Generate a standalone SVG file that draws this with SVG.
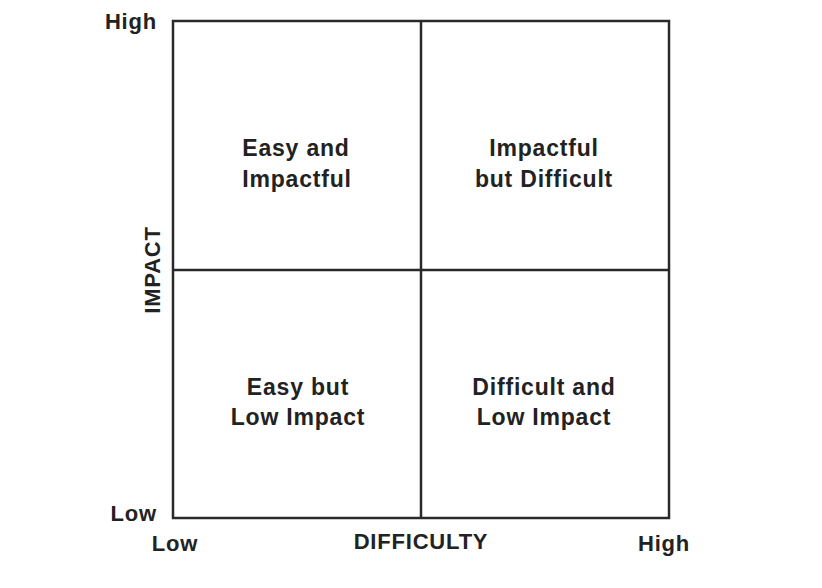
<svg xmlns="http://www.w3.org/2000/svg" width="822" height="588" viewBox="0 0 822 588">
<style>
text{font-family:"Liberation Sans",Arial,sans-serif;font-weight:bold;fill:#222;}
.q{font-size:23px;text-anchor:middle;letter-spacing:0.8px;}
.a{font-size:22px;letter-spacing:0.8px;}
.ln{stroke:#2a2a2a;stroke-width:2.5;fill:none;}
</style>
<rect width="822" height="588" fill="#fff"/>
<g id="connectors">
<rect class="ln" x="173" y="21" width="496" height="497"/>
<line class="ln" x1="421" y1="21" x2="421" y2="518"/>
<line class="ln" x1="173" y1="270" x2="669" y2="270"/>
</g>
<g id="q1"><text class="q" x="296" y="156">Easy and</text><text class="q" x="297" y="187">Impactful</text></g>
<g id="q2"><text class="q" x="544" y="156">Impactful</text><text class="q" x="544" y="187">but Difficult</text></g>
<g id="q3"><text class="q" x="298" y="395">Easy but</text><text class="q" x="298" y="425">Low Impact</text></g>
<g id="q4"><text class="q" x="544" y="395">Difficult and</text><text class="q" x="544" y="425">Low Impact</text></g>
<g id="axes">
<text class="a" x="157" y="29" text-anchor="end">High</text>
<text class="a" x="157" y="521" text-anchor="end">Low</text>
<text class="a" x="175" y="551" text-anchor="middle">Low</text>
<text class="a" x="421" y="549" text-anchor="middle" letter-spacing="1.8">DIFFICULTY</text>
<text class="a" x="664" y="551" text-anchor="middle">High</text>
<text class="a" transform="translate(160,270) rotate(-90)" text-anchor="middle" letter-spacing="1.8">IMPACT</text>
</g>
</svg>
